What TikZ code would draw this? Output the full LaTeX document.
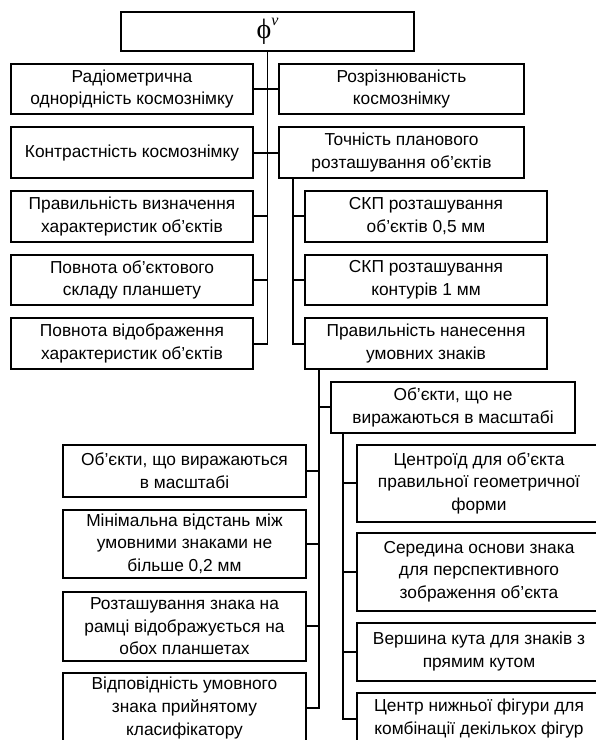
\documentclass[tikz,border=0pt]{standalone}
\usepackage{fontspec}
\setmainfont{Liberation Sans}
\newfontfamily\phifont{Liberation Serif}
\usepackage{tikz}
\usetikzlibrary{positioning, calc}

\newcommand{\boxfont}{\fontsize{13}{17}\selectfont}

\tikzset{
  block/.style={rectangle, draw=black, fill=white, align=center,
    minimum width=181.5pt, minimum height=38pt,
    font=\boxfont, inner sep=1pt, outer sep=0pt, line width=1.3pt},
  line/.style={line width=1.3pt, color=black}
}

\begin{document}
\begin{tikzpicture}[x=0.75pt, y=-0.75pt, node distance=9.75pt and 19.5pt]
  \useasboundingbox (0,0) rectangle (596,740);
  \clip (0,0) rectangle (596,740);

  % Top
  \node[block, minimum width=219.75pt, minimum height=29.25pt, font=\phifont\fontsize{21}{22}\selectfont] (top) at (267.5,31.5) {ϕ\raisebox{1ex}{\fontsize{12}{12}\selectfont\itshape ν}};

  % Left column
  \node[block] (l1) at (132,89) {Радіометрична \\ однорідність космознімку};
  \node[block, below=of l1] (l2) {Контрастність космознімку};
  \node[block, below=of l2] (l3) {Правильність визначення \\ характеристик об'єктів};
  \node[block, below=of l3] (l4) {Повнота об'єктового \\ складу планшету};
  \node[block, below=of l4] (l5) {Повнота відображення \\ характеристик об'єктів};

  % Right column
  \node[block, minimum width=183.75pt, right=of l1] (r1) {Розрізнюваність \\ космознімку};
  \node[block, minimum width=183.75pt, right=of l2] (r2) {Точність планового \\ розташування об'єктів};
  \node[block, right=39pt of l3] (s1) {СКП розташування \\ об'єктів 0,5 мм};
  \node[block, right=39pt of l4] (s2) {СКП розташування \\ контурів 1 мм};
  \node[block, right=39pt of l5] (s3) {Правильність нанесення \\ умовних знаків};

  % Signs
  \node[block, minimum width=183pt, below=of s3, xshift=20.25pt] (n1) {Об'єкти, що не \\ виражаються в масштабі};
  \node[block, minimum width=183pt, minimum height=57.75pt, below=9pt of n1, xshift=19.5pt] (c1) {Центроїд для об'єкта \\ правильної геометричної \\ форми};
  \node[block, minimum width=183pt, minimum height=58.5pt, below=8.25pt of c1] (c2) {Середина основи знака \\ для перспективного \\ зображення об'єкта};
  \node[block, minimum width=183pt, minimum height=43.5pt, below=9pt of c2] (c3) {Вершина кута для знаків з \\ прямим кутом};
  \node[block, minimum width=183pt, minimum height=39pt, below=9pt of c3] (c4) {Центр нижньої фігури для \\ комбінації декількох фігур};

  \node[block, minimum width=182.25pt, minimum height=39pt, left=38.25pt of c1.north west, anchor=north east] (a1) {Об'єкти, що виражаються \\ в масштабі};
  \node[block, minimum width=182.25pt, minimum height=51pt, below=of a1] (a2) {Мінімальна відстань між \\ умовними знаками не \\ більше 0,2 мм};
  \node[block, minimum width=182.25pt, minimum height=51.75pt, below=10.5pt of a2] (a3) {Розташування знака на \\ рамці відображується на \\ обох планшетах};
  \node[block, minimum width=182.25pt, minimum height=53pt, below=9pt of a3] (a4) {Відповідність умовного \\ знака прийнятому \\ класифікатору};

  % Connectors
  \draw[line] (top.south) |- (l5.east);
  \draw[line] (l1.east) -- (r1.west);
  \draw[line] (l2.east) -- (r2.west);
  \foreach \n in {l3,l4} \draw[line] (\n.east) -- (\n.east -| top.south);

  \coordinate (rb) at ([xshift=10.5pt]r2.south west);
  \draw[line] (rb) |- (s3.west);
  \foreach \n in {s1,s2} \draw[line] (\n.west) -- (\n.west -| rb);

  \coordinate (sb) at ([xshift=10.5pt]s3.south west);
  \draw[line] (sb) |- (a4.east);
  \draw[line] (n1.west) -- (n1.west -| sb);
  \foreach \n in {a1,a2,a3} \draw[line] (\n.east) -- (\n.east -| sb);

  \coordinate (nb) at ([xshift=9pt]n1.south west);
  \draw[line] (nb) |- (c4.west);
  \foreach \n in {c1,c2,c3} \draw[line] (\n.west) -- (\n.west -| nb);
\end{tikzpicture}
\end{document}
